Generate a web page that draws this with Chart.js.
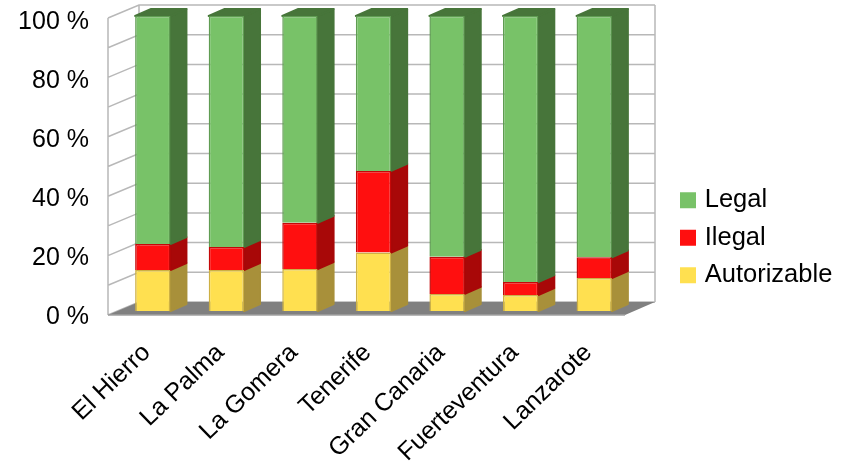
<!DOCTYPE html>
<html>
<head>
<meta charset="utf-8">
<style>
  html, body { margin: 0; padding: 0; background: #fff; }
  canvas { display: block; filter: blur(0.4px); }
</style>
<script src="https://cdn.jsdelivr.net/npm/chart.js@4/dist/chart.umd.min.js"></script>
</head>
<body>
<canvas id="myChart" width="846" height="463"></canvas>
<script>
const islands = ['El Hierro', 'La Palma', 'La Gomera', 'Tenerife', 'Gran Canaria', 'Fuerteventura', 'Lanzarote'];
const autorizable = [13.9, 13.9, 14.2, 19.8, 5.8, 5.4, 11.2];
const ilegal = [8.8, 7.8, 15.7, 27.7, 12.6, 4.4, 7.0];
const legal = [77.3, 78.3, 70.1, 52.5, 81.6, 90.2, 81.8];

const FONT = '"Liberation Sans", Arial, sans-serif';
const sideColors = ['#a8903a', '#a80808', '#47753a'];

// fake 3D: walls, floor and the bar sides are drawn around the real bars
const depthPlugin = {
  id: 'depth',
  beforeDatasetsDraw(chart) {
    const ctx = chart.ctx;
    const y = chart.scales.y;
    const frontY = v => 315 + (y.getPixelForValue(v) - y.bottom) * 297 / 295;
    const backY = v => frontY(v) - 13;

    ctx.save();
    ctx.strokeStyle = '#b8b8b8';
    ctx.lineWidth = 1.5;
    ctx.beginPath();
    for (let v = 0; v <= 100; v += 10) {
      ctx.moveTo(108, frontY(v));
      ctx.lineTo(139, backY(v));
      ctx.lineTo(655, backY(v));
    }
    ctx.moveTo(108, frontY(0));
    ctx.lineTo(108, frontY(100));
    ctx.moveTo(139, backY(0));
    ctx.lineTo(139, backY(100));
    ctx.moveTo(655, backY(0));
    ctx.lineTo(655, backY(100));
    ctx.stroke();

    // floor
    ctx.fillStyle = '#808080';
    ctx.beginPath();
    ctx.moveTo(108, frontY(0));
    ctx.lineTo(625, frontY(0));
    ctx.lineTo(655, backY(0));
    ctx.lineTo(139, backY(0));
    ctx.closePath();
    ctx.fill();
    ctx.strokeStyle = '#a0a0a0';
    ctx.beginPath();
    ctx.moveTo(108, frontY(0));
    ctx.lineTo(625, frontY(0));
    ctx.stroke();

    // bar sides and top
    const dx = 16, dy = -7;
    ctx.lineJoin = 'round';
    ctx.lineWidth = 2;
    chart.data.datasets.forEach((ds, i) => {
      chart.getDatasetMeta(i).data.forEach(bar => {
        const r = bar.x + bar.width / 2;
        const l = bar.x - bar.width / 2;
        ctx.fillStyle = ctx.strokeStyle = sideColors[i];
        ctx.beginPath();
        ctx.moveTo(r, bar.y);
        ctx.lineTo(r + dx, bar.y + dy);
        ctx.lineTo(r + dx, bar.base + dy);
        ctx.lineTo(r, bar.base);
        ctx.closePath();
        ctx.fill();
        ctx.stroke();
        if (i === chart.data.datasets.length - 1) {
          ctx.beginPath();
          ctx.moveTo(l, bar.y);
          ctx.lineTo(l + dx, bar.y + dy);
          ctx.lineTo(r + dx, bar.y + dy);
          ctx.lineTo(r, bar.y);
          ctx.closePath();
          ctx.fill();
          ctx.stroke();
        }
      });
    });
    ctx.restore();
  },
  afterLayout(chart) {
    // put the legend to the right of the 3D box
    const lg = chart.legend;
    lg.left = 672;
    lg.right = 846;
    lg.top = 175.5;
    lg.bottom = 463;
  }
};

const myChart = new Chart(document.getElementById('myChart'), {
  type: 'bar',
  data: {
    labels: islands,
    datasets: [
      { label: 'Autorizable', data: autorizable, backgroundColor: '#ffe050', borderColor: '#cdb044' },
      { label: 'Ilegal', data: ilegal, backgroundColor: '#ff0f0f', borderColor: '#c40808' },
      { label: 'Legal', data: legal, backgroundColor: '#78c268', borderColor: '#5f9c52' }
    ]
  },
  options: {
    responsive: false,
    animation: false,
    layout: { padding: { top: 16, right: 215, left: 0, bottom: 0 } },
    datasets: {
      bar: { barPercentage: 1, categoryPercentage: 0.48, borderWidth: 1.5 }
    },
    scales: {
      x: {
        stacked: true,
        grid: { display: false, drawTicks: false },
        border: { display: false },
        afterFit(scale) { scale.height = 152; },
        ticks: {
          color: '#000',
          font: { family: FONT, size: 25 },
          minRotation: 44,
          maxRotation: 44,
          padding: 27,
          labelOffset: -6
        }
      },
      y: {
        stacked: true,
        min: 0,
        max: 100,
        grid: { display: false, drawTicks: false },
        border: { display: false },
        afterFit(scale) {
          scale.width = 116;
          // keep the plot top on the bar tops, no room for half a label
          scale.paddingTop = 0;
          scale.paddingBottom = 0;
        },
        ticks: {
          color: '#000',
          font: { family: FONT, size: 25 },
          stepSize: 20,
          padding: 27,
          labelOffset: 6,
          callback: v => v + ' %'
        }
      }
    },
    plugins: {
      tooltip: { enabled: false },
      legend: {
        position: 'chartArea',
        align: 'start',
        reverse: true,
        labels: {
          color: '#000',
          font: { family: FONT, size: 25.5 },
          boxWidth: 8,
          boxHeight: 8,
          padding: 12,
          generateLabels(chart) {
            // wide stroke of the fill colour: square stays 16px, text sits closer to it
            return Chart.defaults.plugins.legend.labels.generateLabels(chart).map(item => {
              item.strokeStyle = item.fillStyle;
              item.lineWidth = 8;
              return item;
            });
          }
        }
      }
    }
  },
  plugins: [depthPlugin]
});
</script>
</body>
</html>
